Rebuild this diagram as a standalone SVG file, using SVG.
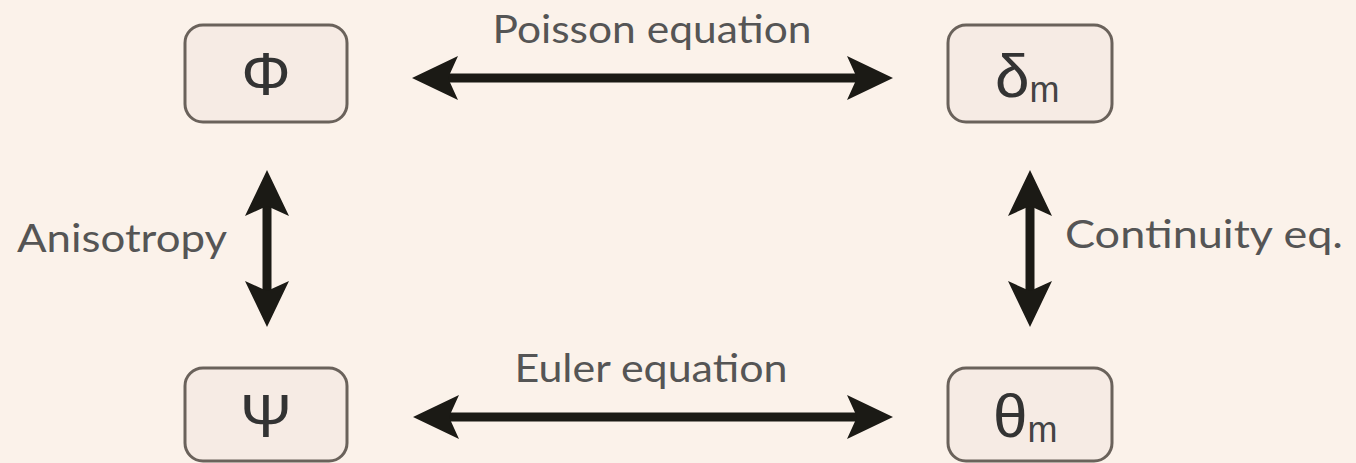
<svg xmlns="http://www.w3.org/2000/svg" width="1356" height="463" viewBox="0 0 1356 463">
<style>
.bg{fill:#fbf2ea}
.box{fill:#f6ebe4;stroke:#6a625b;stroke-width:3}
.sym{font-family:"Liberation Sans",Arial,sans-serif;fill:#333;font-size:62px}
.sub{font-family:"Liberation Sans",Arial,sans-serif;fill:#444;font-size:36px}
.lbl{font-family:Lato,"Open Sans",sans-serif;fill:#555;font-size:38px}
.conn{stroke:#1b1a15;stroke-width:9;fill:none}
</style>
<defs>
<marker id="ah" markerUnits="userSpaceOnUse" viewBox="0 0 46 44" markerWidth="46" markerHeight="44" refX="26" refY="22" orient="auto-start-reverse">
<path d="M0,0 L46,22 L0,44 L10,22 Z" fill="#1b1a15"/>
</marker>
</defs>
<rect class="bg" x="0" y="0" width="1356" height="463"/>
<g id="connectors">
<line class="conn" x1="432" y1="78" x2="873" y2="78" marker-start="url(#ah)" marker-end="url(#ah)"/>
<line class="conn" x1="433" y1="417" x2="873" y2="417" marker-start="url(#ah)" marker-end="url(#ah)"/>
<line class="conn" x1="267" y1="190" x2="267" y2="307" marker-start="url(#ah)" marker-end="url(#ah)"/>
<line class="conn" x1="1030" y1="190" x2="1030" y2="307" marker-start="url(#ah)" marker-end="url(#ah)"/>
<text class="lbl" x="652" y="43" text-anchor="middle" textLength="319" lengthAdjust="spacingAndGlyphs">Poisson equation</text>
<text class="lbl" x="651" y="382" text-anchor="middle" textLength="273" lengthAdjust="spacingAndGlyphs">Euler equation</text>
<text class="lbl" x="17" y="252" textLength="210" lengthAdjust="spacingAndGlyphs">Anisotropy</text>
<text class="lbl" x="1065" y="248" textLength="278" lengthAdjust="spacingAndGlyphs">Continuity eq.</text>
</g>
<g id="node-phi">
<rect class="box" x="185" y="25" width="162" height="97" rx="18"/>
<text class="sym" x="266" y="95" text-anchor="middle">Φ</text>
</g>
<g id="node-delta">
<rect class="box" x="948" y="25" width="164" height="97" rx="18"/>
<text class="sym" x="995" y="97">δ<tspan class="sub" dy="5">m</tspan></text>
</g>
<g id="node-psi">
<rect class="box" x="185" y="368" width="162" height="93" rx="18"/>
<text class="sym" x="266" y="437" text-anchor="middle">Ψ</text>
</g>
<g id="node-theta">
<rect class="box" x="948" y="368" width="164" height="93" rx="18"/>
<text class="sym" x="993" y="437">θ<tspan class="sub" dy="5">m</tspan></text>
</g>
</svg>
